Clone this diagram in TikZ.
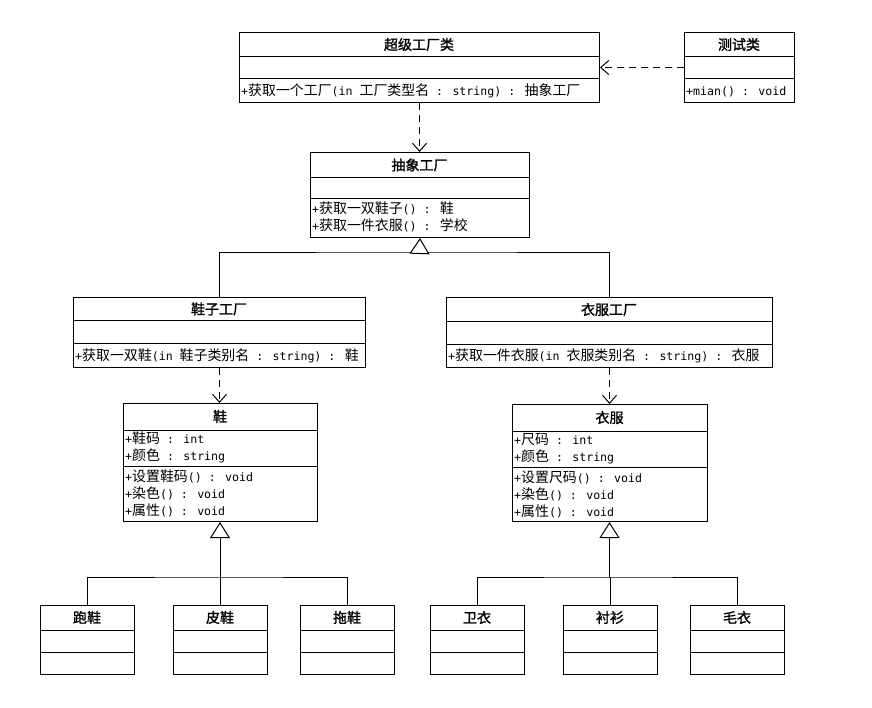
\documentclass[tikz,border=0pt]{standalone}
\usepackage{fontspec}
\setmainfont{DejaVu Sans Mono}
\newfontfamily\cjk[Scale=1.2]{Noto Sans CJK SC}
\newfontfamily\cjkb[Scale=1.2,FakeBold=1.5]{Noto Sans CJK SC}
\newcommand\zh[1]{{\cjk #1}}
\usetikzlibrary{arrows.meta,calc}
\tikzset{
  cls/.style={draw, line width=1pt, anchor=north west, inner sep=0pt, fill=white},
  sep/.style={line width=1pt},
  ttl/.style={inner sep=0pt, anchor=center, font=\fontsize{11.67}{17}\selectfont\cjkb},
  txt/.style={inner sep=0pt, anchor=base west, font=\fontsize{11.6}{17}\selectfont},
  dep/.style={line width=1pt, dash pattern=on 7pt off 5pt, -{Straight Barb[length=8pt,width=14pt]}},
  inh/.style={line width=1pt, -{Triangle[open,length=16pt,width=20pt,fill=white]}},
  gen/.style={line width=1pt}
}
\newcommand\umlbox[8]{%
  \node[cls, minimum width=#4pt, minimum height=#5pt] (#1) at (#2,#3) {};
  \draw[sep] (#2,#6) -- ++(#4,0);
  \draw[sep] (#2,#7) -- ++(#4,0);
  \pgfmathsetmacro\tx{#2+#4/2}\pgfmathsetmacro\ty{(#3+#6)/2}
  \node[ttl] (#1-t) at (\tx,\ty) {#8};
}
\begin{document}
\begin{tikzpicture}[x=1pt,y=-1pt]
\useasboundingbox[fill=white] (0,0) rectangle (872,708);

\coordinate (j1) at (419.5,253);
\coordinate (j2) at (220,577);
\coordinate (j3) at (609.5,577);

\umlbox{sf}{239}{32}{360}{70}{57}{79}{超级工厂类}
\node[txt] (sf-m1) at (241,95.5) {+\zh{获取一个工厂}(in \zh{工厂类型名} : string) : \zh{抽象工厂}};

\umlbox{test}{684}{32}{110}{70}{57}{79}{测试类}
\node[txt] (test-m1) at (686,95.5) {+mian() : void};

\umlbox{af}{310}{152}{219}{85}{178}{199}{抽象工厂}
\node[txt] (af-m1) at (312,214) {+\zh{获取一双鞋子}() : \zh{鞋}};
\node[txt] (af-m2) at (312,231) {+\zh{获取一件衣服}() : \zh{学校}};

\umlbox{shf}{73}{297}{292}{70}{321}{343}{鞋子工厂}
\node[txt] (shf-m1) at (75,360) {+\zh{获取一双鞋}(in \zh{鞋子类别名} : string) : \zh{鞋}};

\umlbox{cf}{446}{297}{326}{70}{322}{344}{衣服工厂}
\node[txt] (cf-m1) at (448,360) {+\zh{获取一件衣服}(in \zh{衣服类别名} : string) : \zh{衣服}};

\umlbox{shoe}{123}{403}{194}{118}{430}{466}{鞋}
\node[txt] (shoe-a1) at (125,443.5) {+\zh{鞋码} : int};
\node[txt] (shoe-a2) at (125,460.5) {+\zh{颜色} : string};
\node[txt] (shoe-m1) at (125,481) {+\zh{设置鞋码}() : void};
\node[txt] (shoe-m2) at (125,498) {+\zh{染色}() : void};
\node[txt] (shoe-m3) at (125,515) {+\zh{属性}() : void};

\umlbox{cloth}{512}{404}{195}{117}{431}{467}{衣服}
\node[txt] (cloth-a1) at (514,444.5) {+\zh{尺码} : int};
\node[txt] (cloth-a2) at (514,461.5) {+\zh{颜色} : string};
\node[txt] (cloth-m1) at (514,482) {+\zh{设置尺码}() : void};
\node[txt] (cloth-m2) at (514,499) {+\zh{染色}() : void};
\node[txt] (cloth-m3) at (514,516) {+\zh{属性}() : void};

\umlbox{run}{40}{605}{94}{69}{630}{652}{跑鞋}
\umlbox{leather}{173}{605}{94}{69}{630}{652}{皮鞋}
\umlbox{slip}{300}{605}{94}{69}{630}{652}{拖鞋}
\umlbox{hood}{430}{605}{94}{69}{630}{652}{卫衣}
\umlbox{shirt}{563}{605}{94}{69}{630}{652}{衬衫}
\umlbox{sweater}{690}{605}{94}{69}{630}{652}{毛衣}

% dependencies
\draw[dep] (test.west) -- (sf.east);
\draw[dep] (sf.south) -- (sf.south |- af.north);
\draw[dep] (shf.south) -- (shf.south |- shoe.north);
\draw[dep] (cf.south) -- (cf.south |- cloth.north);

% generalisations
\draw[gen] (shf.north) |- (j1) -| (cf.north);
\draw[inh] (j1) -- (af.south);
\draw[gen] (run.north) |- (j2) -| (slip.north);
\draw[gen] (leather.north) -- (leather.north |- j2);
\draw[inh] (j2) -- (j2 |- shoe.south);
\draw[gen] (hood.north) |- (j3) -| (sweater.north);
\draw[gen] (shirt.north) -- (shirt.north |- j3);
\draw[inh] (j3) -- (j3 |- cloth.south);
\end{tikzpicture}
\end{document}
